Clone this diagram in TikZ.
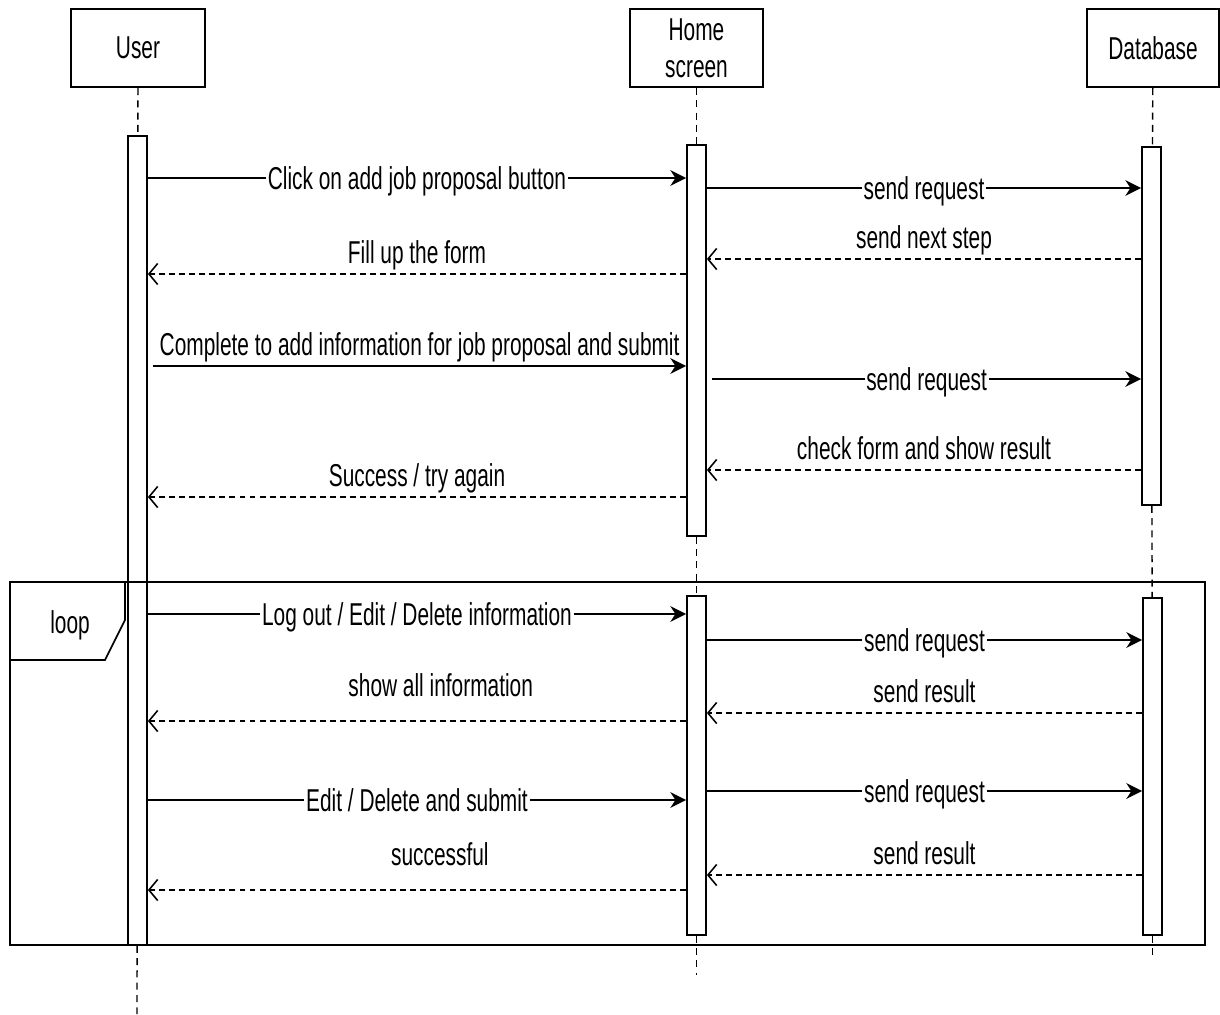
\documentclass[tikz,border=0pt]{standalone}
\usepackage{fontspec}
\setmainfont{Liberation Sans}[FakeStretch=0.66]
\usetikzlibrary{arrows.meta}
\begin{document}
\begin{tikzpicture}[x=0.02cm,y=-0.02cm,font=\fontsize{18}{21}\selectfont]
        \useasboundingbox (0,0) rectangle (1220,1014);
        \begin{scope}[every node/.style={rectangle,draw,line width=1.2pt,minimum height=1.56cm,align=center}]
            \node (u) [minimum width=2.68cm] at (138,48) {User};
            \node (h) [minimum width=2.66cm] at (696.5,48) {Home\\screen};
            \node (d) [minimum width=2.64cm] at (1153,48) {Database};
        \end{scope}
        \begin{scope}[every node/.style={rectangle,draw,fill=white,line width=1pt,minimum width=0.38cm,inner sep=0pt}]
            \node (ua)  [minimum height=16.18cm] at (137.5,540.5) {};
            \node (ha1) [minimum height=7.82cm] at (696.5,340.5) {};
            \node (ha2) [minimum height=6.78cm] at (696.5,765.5) {};
            \node (da1) [minimum height=7.16cm] at (1151.5,326) {};
            \node (da2) [minimum height=6.74cm] at (1152.5,766.5) {};
        \end{scope}
        \coordinate (uend) at (137,1014);
        \coordinate (hend) at (696.5,975);
        \coordinate (dend) at (1152.5,960);
        % lifelines
        \begin{scope}[every edge/.style={draw,line width=0.8pt,dash pattern=on 4pt off 3pt}]
            \path
                (u) edge (ua)
                (ua) edge (uend)
                (h) edge (ha1)
                (ha1) edge (ha2)
                (ha2) edge (hend)
                (d) edge (da1)
                (da1) edge (da2)
                (da2) edge (dend);
        \end{scope}
        % loop frame
        \draw[line width=1.1pt] (10,582) rectangle (1205,945);
        \draw[line width=1pt] (10,660) -- (105,660) -- (125,620) -- (125,582);
        \node (loop) at (70,625) {loop};
        \tikzset{call/.style={draw,line width=1.1pt,-{Stealth[length=9pt,width=9pt]}},
                 reply/.style={draw,line width=0.9pt,dash pattern=on 3.4pt off 2.3pt,-{Straight Barb[length=5pt,width=12pt]}},
                 online/.style={fill=white,inner sep=1pt,text height=15pt,text depth=2pt},
                 over/.style={inner sep=1pt,text height=12pt,text depth=3.5pt,above=#1},
                 over/.default=1.2pt}
        % first part
        \draw[call] (ua.east |- 0,178) -- node[online] {Click on add job proposal button} (ha1.west |- 0,178);
        \draw[call] (ha1.east |- 0,188) -- node[online] {send request} (da1.west |- 0,188);
        \draw[reply] (da1.west |- 0,259) -- node[over] {send next step} (ha1.east |- 0,259);
        \draw[reply] (ha1.west |- 0,274) -- node[over] {Fill up the form} (ua.east |- 0,274);
        \draw[call] ([xshift=3pt]ua.east |- 0,366) -- node[over] {Complete to add information for job proposal and submit} (ha1.west |- 0,366);
        \draw[call] ([xshift=3pt]ha1.east |- 0,379) -- node[online] {send request} (da1.west |- 0,379);
        \draw[reply] (da1.west |- 0,470) -- node[over] {check form and show result} (ha1.east |- 0,470);
        \draw[reply] (ha1.west |- 0,497) -- node[over] {Success / try again} (ua.east |- 0,497);
        % loop part
        \draw[call] (ua.east |- 0,614) -- node[online] {Log out / Edit / Delete information} (ha2.west |- 0,614);
        \draw[call] (ha2.east |- 0,640) -- node[online] {send request} (da2.west |- 0,640);
        \draw[reply] (da2.west |- 0,713) -- node[over] {send result} (ha2.east |- 0,713);
        \draw[reply] (ha2.west |- 0,721) -- node[over=9pt,xshift=13.5pt] {show all information} (ua.east |- 0,721);
        \draw[call] (ha2.east |- 0,791) -- node[online] {send request} (da2.west |- 0,791);
        \draw[call] (ua.east |- 0,800) -- node[online] {Edit / Delete and submit} (ha2.west |- 0,800);
        \draw[reply] (da2.west |- 0,875) -- node[over] {send result} (ha2.east |- 0,875);
        \draw[reply] (ha2.west |- 0,890) -- node[over=9pt,xshift=13pt] {successful} (ua.east |- 0,890);
    \end{tikzpicture}
\end{document}
